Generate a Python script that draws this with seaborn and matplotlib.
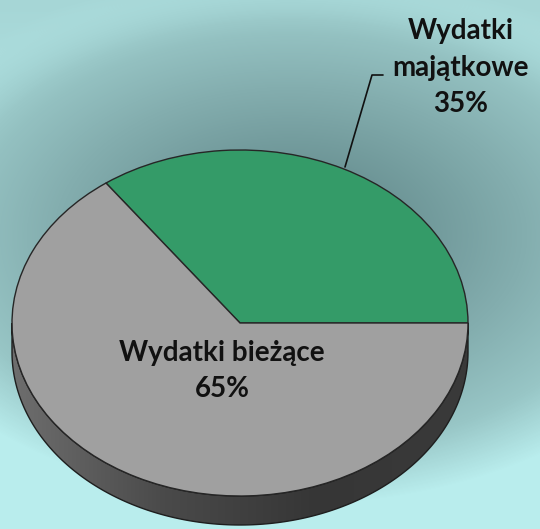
import numpy as np
import matplotlib
matplotlib.use("Agg")
import matplotlib.pyplot as plt
from matplotlib.patches import Polygon
from matplotlib.colors import LinearSegmentedColormap, to_rgb
import seaborn as sns

categories = ["Wydatki majątkowe", "Wydatki bieżące"]
shares = [35, 65]
colors = ["#349b68", "#a0a0a0"]

sns.set_theme(style="white")
plt.rcParams['font.family'] = ['Lato', 'DejaVu Sans']

W, H = 540, 529
fig = plt.figure(figsize=(W / 100, H / 100), dpi=100)

# background radial gradient
bg = fig.add_axes([0, 0, 1, 1])
bg.set_axis_off()
yy, xx = np.mgrid[0:H, 0:W]
r = np.sqrt(((xx - 290) / 430.0) ** 2 + ((yy - 235) / 270.0) ** 2)
r = np.clip(r, 0, 1)
bgcmap = LinearSegmentedColormap.from_list(
    "bg", [(0, "#587e80"), (0.55, "#84aeaf"), (0.8, "#98c6c6"), (1, "#b9eded")])
rgb = bgcmap(r)[..., :3]
# cooler / dimmer toward top edge
topc = np.array(to_rgb("#a6d6d6"))
wtop = np.clip(1 - yy / 260.0, 0, 1)[..., None] * np.clip((r[..., None] - 0.75) / 0.25, 0, 1)
rgb = rgb * (1 - wtop) + topc * wtop
bg.imshow(rgb, extent=[0, W, H, 0], aspect='auto')
bg.set_xlim(0, W)
bg.set_ylim(H, 0)

# pie axes
ax = fig.add_axes([0, 0, 1, 1])
ax.patch.set_alpha(0)
cx, cy = 240, 323
rx, ry = 228, 173
depth = 29 / ry

wedges, _ = ax.pie(shares, colors=colors, startangle=0, counterclock=True,
                   wedgeprops=dict(edgecolor="#262626", linewidth=1.0, zorder=3))
ax.set_aspect('auto')
ax.set_axis_off()

# side wall (front half) with gradient
t = np.linspace(np.pi, 2 * np.pi, 200)
top = np.column_stack([np.cos(t), np.sin(t)])
bot = np.column_stack([np.cos(t[::-1]), np.sin(t[::-1]) - depth])
wall = Polygon(np.vstack([top, bot]), closed=True, facecolor='none',
               edgecolor="#1e1e1e", linewidth=1.0, zorder=2)
ax.add_patch(wall)
cmap = LinearSegmentedColormap.from_list("wall", ["#6e6e6e", "#4a4a4a", "#363636", "#3a3a3a"])
grad = np.linspace(0, 1, 256)[None, :]
im = ax.imshow(grad, cmap=cmap, extent=[-1, 1, -1 - depth, 0.05], aspect='auto', zorder=1.5)
im.set_clip_path(wall)
ax.set_xlim(-cx / rx, (W - cx) / rx)
ax.set_ylim(-(H - cy) / ry, cy / ry)

# labels
ax.text(461 / W, 1 - 68 / H, f"Wydatki\nmajątkowe\n{shares[0]}%", transform=fig.transFigure,
        ha='center', va='center', fontsize=20, fontweight='bold', color='#111111',
        linespacing=1.5, zorder=5)
ax.text(222 / W, 1 - 371 / H, f"Wydatki bieżące\n{shares[1]}%", transform=fig.transFigure,
        ha='center', va='center', fontsize=20, fontweight='bold', color='#111111',
        linespacing=1.5, zorder=5)

# leader line
lx = np.array([345, 372, 383])
ly = np.array([167, 75, 75])
fig.add_artist(plt.Line2D(lx / W, 1 - ly / H, color='#111111', lw=1.2,
                          transform=fig.transFigure, zorder=10))

fig.savefig("out.png", dpi=100)
